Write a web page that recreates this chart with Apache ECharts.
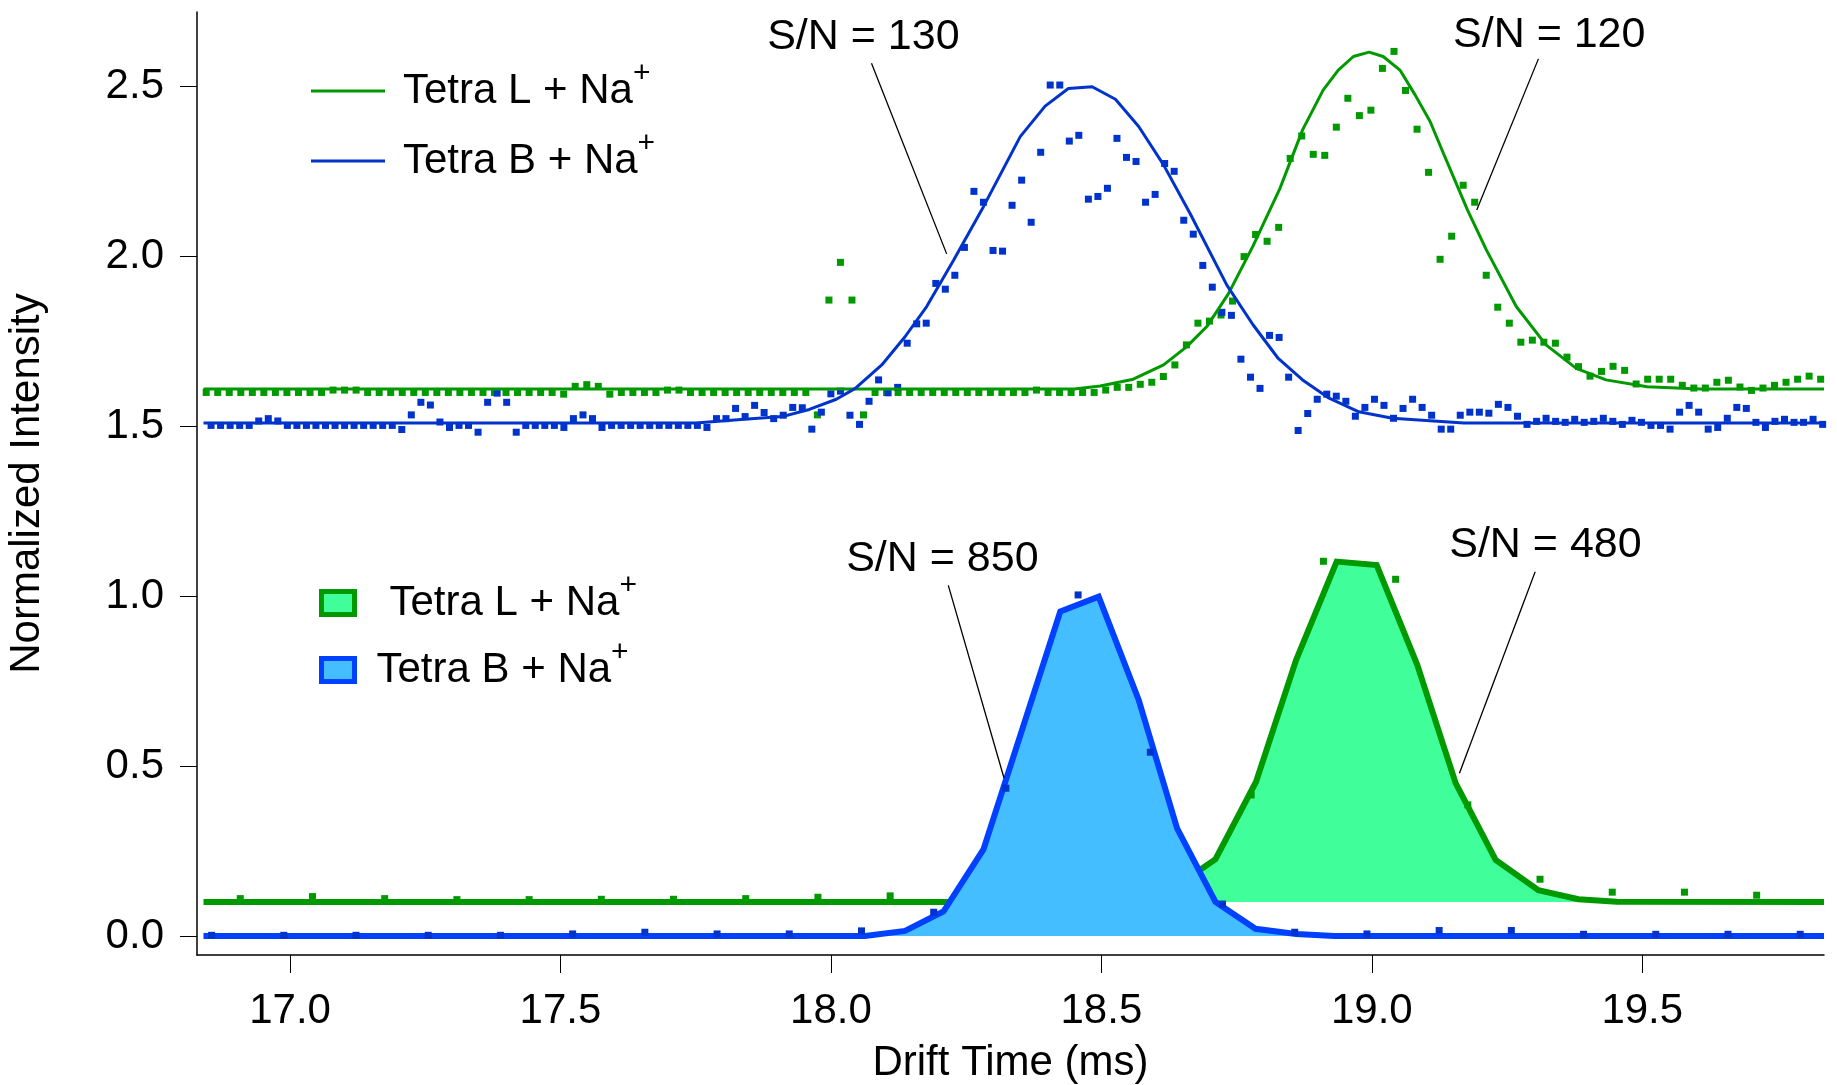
<!DOCTYPE html>
<html lang="en">
<head>
  <meta charset="UTF-8">
  <title>Drift Time</title>
  <script src="https://cdn.jsdelivr.net/npm/echarts@6.0.0/dist/echarts.min.js"></script>
  <style>
    * {
      margin: 0;
      padding: 0
    }

    html, body {
      width: 100%;
      height: 100%;
      background: #fff;
    }

    #main {
      width: 1837px;
      height: 1085px;
    }
  </style>
</head>
<body>
  <div id="main"></div>
</body>
<script type="text/javascript">
  /*-------------------- data --------------------*/
  // top traces: raw points sit on a fixed drift-time grid (start, step)
  var greenTopT0 = 16.845, greenTopDt = 0.02132;
  var greenTopPts = [
    1.600, 1.600, 1.600, 1.600, 1.600, 1.600, 1.600, 1.600, 1.600, 1.600,
    1.600, 1.607, 1.607, 1.607, 1.600, 1.600, 1.600, 1.600, 1.600, 1.600,
    1.600, 1.600, 1.600, 1.600, 1.600, 1.600, 1.600, 1.600, 1.600, 1.600,
    1.600, 1.595, 1.618, 1.623, 1.618, 1.595, 1.600, 1.600, 1.600, 1.600,
    1.607, 1.607, 1.600, 1.600, 1.600, 1.600, 1.600, 1.600, 1.600, 1.600,
    1.600, 1.600, 1.600, 1.534, 1.872, 1.983, 1.872, 1.534, 1.600, 1.600,
    1.600, 1.600, 1.600, 1.600, 1.600, 1.600, 1.600, 1.600, 1.600, 1.600,
    1.600, 1.600, 1.607, 1.600, 1.600, 1.600, 1.600, 1.600, 1.607, 1.615,
    1.615, 1.624, 1.630, 1.647, 1.681, 1.740, 1.804, 1.810, 1.828, 1.869,
    2.000, 2.065, 2.045, 2.086, 2.289, 2.355, 2.301, 2.298, 2.381, 2.466,
    2.415, 2.431, 2.554, 2.604, 2.489, 2.375, 2.248, 1.992, 2.060, 2.210,
    2.160, 1.945, 1.851, 1.804, 1.748, 1.754, 1.748, 1.745, 1.704, 1.676,
    1.648, 1.662, 1.677, 1.665, 1.625, 1.639, 1.639, 1.639, 1.621, 1.613,
    1.613, 1.630, 1.636, 1.616, 1.606, 1.613, 1.621, 1.630, 1.639, 1.648,
    1.639
  ];
  var blueTopT0 = 16.854, blueTopDt = 0.01763;
  var blueTopPts = [
    1.503, 1.503, 1.503, 1.503, 1.503, 1.516, 1.523, 1.516, 1.503, 1.503,
    1.503, 1.503, 1.503, 1.503, 1.503, 1.503, 1.503, 1.503, 1.503, 1.503,
    1.491, 1.534, 1.571, 1.563, 1.513, 1.497, 1.503, 1.503, 1.483, 1.571,
    1.598, 1.571, 1.483, 1.503, 1.503, 1.503, 1.503, 1.497, 1.523, 1.534,
    1.523, 1.497, 1.503, 1.503, 1.503, 1.503, 1.503, 1.503, 1.503, 1.503,
    1.503, 1.503, 1.497, 1.523, 1.523, 1.553, 1.529, 1.562, 1.541, 1.523,
    1.533, 1.556, 1.555, 1.492, 1.542, 1.596, 1.604, 1.533, 1.506, 1.574,
    1.637, 1.599, 1.615, 1.745, 1.802, 1.804, 1.921, 1.904, 1.945, 2.027,
    2.192, 2.160, 2.018, 2.016, 2.151, 2.225, 2.101, 2.307, 2.505, 2.505,
    2.340, 2.357, 2.169, 2.177, 2.201, 2.348, 2.292, 2.280, 2.160, 2.183,
    2.274, 2.251, 2.107, 2.066, 1.974, 1.910, 1.836, 1.827, 1.698, 1.645,
    1.612, 1.768, 1.762, 1.645, 1.488, 1.538, 1.580, 1.595, 1.589, 1.574,
    1.530, 1.556, 1.580, 1.562, 1.524, 1.553, 1.580, 1.556, 1.533, 1.492,
    1.492, 1.533, 1.542, 1.542, 1.539, 1.565, 1.556, 1.530, 1.506, 1.515,
    1.524, 1.515, 1.512, 1.521, 1.512, 1.515, 1.524, 1.515, 1.506, 1.518,
    1.512, 1.503, 1.503, 1.492, 1.542, 1.562, 1.542, 1.492, 1.497, 1.524,
    1.556, 1.553, 1.512, 1.497, 1.515, 1.521, 1.512, 1.512, 1.521, 1.506
  ];

  // fitted curves (top)
  var greenFitX = [16.84, 18.45, 18.498, 18.559, 18.615, 18.658, 18.695, 18.735, 18.78, 18.83,
    18.872, 18.91, 18.938, 18.966, 18.995, 19.021, 19.052, 19.08, 19.108, 19.135,
    19.177, 19.212, 19.267, 19.322, 19.378, 19.433, 19.509, 19.606, 19.836];
  var greenFitY = [1.61, 1.61, 1.619, 1.639, 1.681, 1.735, 1.794, 1.891, 2.03, 2.20,
    2.373, 2.49, 2.549, 2.589, 2.602, 2.589, 2.549, 2.476, 2.397, 2.294,
    2.137, 2.019, 1.853, 1.74, 1.671, 1.637, 1.617, 1.61, 1.61];
  var blueFitX = [16.84, 17.75, 17.84, 17.91, 17.96, 18.01, 18.045, 18.094, 18.137, 18.177,
    18.227, 18.282, 18.35, 18.396, 18.439, 18.483, 18.526, 18.569, 18.615, 18.664,
    18.732, 18.78, 18.827, 18.872, 18.921, 18.976, 19.038, 19.17, 19.836];
  var blueFitY = [1.51, 1.51, 1.521, 1.529, 1.55, 1.58, 1.612, 1.681, 1.764, 1.853,
    1.99, 2.147, 2.353, 2.443, 2.495, 2.50, 2.463, 2.383, 2.27, 2.127,
    1.916, 1.80, 1.70, 1.637, 1.583, 1.543, 1.524, 1.51, 1.51];

  // bottom traces (filled)
  var greenAreaX = [16.84, 18.49, 18.563, 18.637, 18.711, 18.786, 18.860, 18.935, 19.009, 19.084,
    19.155, 19.229, 19.308, 19.382, 19.453, 19.836];
  var greenAreaY = [0.10, 0.10, 0.11, 0.145, 0.226, 0.454, 0.812, 1.102, 1.092, 0.798,
    0.450, 0.224, 0.135, 0.108, 0.101, 0.10];
  var greenBase = 0.1;
  var blueAreaX = [16.84, 18.063, 18.137, 18.208, 18.282, 18.424, 18.495, 18.569, 18.640, 18.711,
    18.785, 18.860, 18.931, 19.836];
  var blueAreaY = [0, 0, 0.015, 0.072, 0.255, 0.955, 0.999, 0.695, 0.317, 0.10,
    0.021, 0.006, 0, 0];

  // bottom raw points
  var botDt = 0.1335;
  var greenBotT0 = 16.908;
  var greenBotPts = [0.110, 0.116, 0.110, 0.107, 0.107, 0.108, 0.108, 0.110, 0.114, 0.118,
    0.105, 0.100, 0.105, 0.150, 0.415, 1.103, 1.050, 0.386, 0.167, 0.129,
    0.129, 0.120];
  var blueBotT0 = 16.855;
  var blueBotPts = [0.002, 0.002, 0.002, 0.002, 0.002, 0.006, 0.011, 0.006, 0.006, 0.015,
    0.070, 0.435, 1.004, 0.541, 0.094, 0.011, 0.006, 0.016, 0.016, 0.005,
    0.005, 0.005, 0.005];

  var xTicks = [17, 17.5, 18, 18.5, 19, 19.5];
  var yTicks = [0, 0.5, 1, 1.5, 2, 2.5];

  // S/N notes: text anchor + leader line (data coords)
  var notes = [
    {text: 'S/N = 130', tx: 18.06, ty: 2.645, x1: 18.075, y1: 2.569, x2: 18.214, y2: 2.008},
    {text: 'S/N = 120', tx: 19.328, ty: 2.652, x1: 19.308, y1: 2.582, x2: 19.194, y2: 2.137},
    {text: 'S/N = 850', tx: 18.206, ty: 1.108, x1: 18.217, y1: 1.032, x2: 18.320, y2: 0.465},
    {text: 'S/N = 480', tx: 19.321, ty: 1.150, x1: 19.302, y1: 1.072, x2: 19.162, y2: 0.479}
  ];

  var legendText = {
    'L-fit': ['a', 'Tetra L + Na'],
    'B-fit': ['a', 'Tetra B + Na'],
    'L-area': ['b', 'Tetra L + Na'],
    'B-area': ['c', 'Tetra B + Na']
  };

  /*-------------------- helpers --------------------*/
  function pairs(xs, ys) {
    return xs.map(function (x, i) { return [x, ys[i]]; });
  }

  function onGrid(t0, dt, ys) {
    return ys.map(function (y, i) { return [+(t0 + dt * i).toFixed(4), y]; });
  }

  var FONT = 'Liberation Sans, Arial, Helvetica, sans-serif';
  var GREEN = '#009900', BLUE = '#0033cc';

  var richText = {
    a: {fontSize: 42, lineHeight: 64, padding: [0, 0, 0, 13], color: '#000', fontFamily: FONT},
    b: {fontSize: 42, lineHeight: 64, padding: [0, 0, 0, 30], color: '#000', fontFamily: FONT},
    c: {fontSize: 42, lineHeight: 64, padding: [0, 0, 0, 17], color: '#000', fontFamily: FONT},
    s: {fontSize: 30, lineHeight: 24, verticalAlign: 'top', color: '#000', fontFamily: FONT}
  };

  function legendFormatter(name) {
    var l = legendText[name];
    return '{' + l[0] + '|' + l[1] + '}{s|+}';
  }

  var noteLines = notes.map(function (n) {
    return [{coord: [n.x1, n.y1]}, {coord: [n.x2, n.y2]}];
  });
  var noteLabels = notes.map(function (n) {
    return {name: n.text, coord: [n.tx, n.ty]};
  });

  /*-------------------- chart --------------------*/
  var chart = echarts.init(document.getElementById('main'));
  chart.setOption({
    animation: false,
    backgroundColor: '#fff',
    textStyle: {fontFamily: FONT},
    grid: {left: 197, right: 13, top: 12, bottom: 130, containLabel: false, outerBoundsMode: 'none'},
    legend: [
      {
        data: [
          {name: 'L-fit', icon: 'rect', itemStyle: {color: GREEN, borderWidth: 0}},
          {name: 'B-fit', icon: 'rect', itemStyle: {color: BLUE, borderWidth: 0}}
        ],
        orient: 'vertical',
        left: 311,
        top: 59,
        padding: 0,
        itemGap: 17,
        itemWidth: 74,
        itemHeight: 3,
        selectedMode: false,
        formatter: legendFormatter,
        textStyle: {rich: richText}
      },
      {
        data: [
          {name: 'L-area', icon: 'rect', itemStyle: {color: '#40ff9a', borderColor: GREEN, borderWidth: 5}},
          {name: 'B-area', icon: 'rect', itemStyle: {color: '#44beff', borderColor: '#0040ff', borderWidth: 5}}
        ],
        orient: 'vertical',
        left: 319,
        top: 571,
        padding: 0,
        itemGap: 14,
        itemWidth: 33,
        itemHeight: 23,
        selectedMode: false,
        formatter: legendFormatter,
        textStyle: {rich: richText}
      }
    ],
    xAxis: {
      type: 'value',
      min: 16.828,
      max: 19.836,
      name: 'Drift Time (ms)',
      nameLocation: 'middle',
      nameGap: 87,
      nameTextStyle: {fontSize: 42, color: '#000', fontFamily: FONT},
      axisLine: {onZero: false, lineStyle: {color: '#000', width: 1.5}},
      axisTick: {customValues: xTicks, length: 18, lineStyle: {color: '#000', width: 1}},
      axisLabel: {
        customValues: xTicks,
        margin: 35,
        fontSize: 42,
        color: '#000',
        fontFamily: FONT,
        formatter: function (v) { return v.toFixed(1); }
      },
      splitLine: {show: false}
    },
    yAxis: {
      type: 'value',
      min: -0.056,
      max: 2.72,
      name: 'Normalized Intensity',
      nameLocation: 'middle',
      nameGap: 149,
      nameTextStyle: {fontSize: 42, color: '#000', fontFamily: FONT},
      axisLine: {show: true, onZero: false, lineStyle: {color: '#000', width: 1.5}},
      axisTick: {show: true, customValues: yTicks, length: 17, lineStyle: {color: '#000', width: 1}},
      axisLabel: {
        customValues: yTicks,
        margin: 33,
        fontSize: 42,
        color: '#000',
        fontFamily: FONT,
        formatter: function (v) { return v.toFixed(1); }
      },
      splitLine: {show: false}
    },
    series: [
      {
        name: 'green-top-pts',
        type: 'scatter',
        symbol: 'rect',
        symbolSize: 7,
        itemStyle: {color: GREEN, opacity: 1},
        data: onGrid(greenTopT0, greenTopDt, greenTopPts),
        z: 2
      },
      {
        name: 'blue-top-pts',
        type: 'scatter',
        symbol: 'rect',
        symbolSize: 7,
        itemStyle: {color: BLUE, opacity: 1},
        data: onGrid(blueTopT0, blueTopDt, blueTopPts),
        z: 2
      },
      {
        name: 'L-fit',
        type: 'line',
        symbol: 'none',
        color: GREEN,
        lineStyle: {color: GREEN, width: 3},
        data: pairs(greenFitX, greenFitY),
        z: 3,
        markLine: {
          silent: true,
          symbol: ['none', 'none'],
          label: {show: false},
          lineStyle: {color: '#000', width: 1.3, type: 'solid'},
          data: noteLines
        },
        markPoint: {
          silent: true,
          symbol: 'rect',
          symbolSize: 1,
          itemStyle: {color: 'rgba(0,0,0,0)'},
          label: {
            show: true,
            position: 'inside',
            formatter: '{b}',
            fontSize: 43,
            color: '#000',
            fontFamily: FONT
          },
          data: noteLabels
        }
      },
      {
        name: 'B-fit',
        type: 'line',
        symbol: 'none',
        color: BLUE,
        lineStyle: {color: BLUE, width: 3},
        data: pairs(blueFitX, blueFitY),
        z: 3
      },
      {
        name: 'L-area',
        type: 'line',
        symbol: 'none',
        color: GREEN,
        lineStyle: {color: GREEN, width: 6, join: 'miter'},
        areaStyle: {color: '#40ff9a', opacity: 1, origin: greenBase},
        data: pairs(greenAreaX, greenAreaY),
        z: 2
      },
      {
        name: 'green-bot-pts',
        type: 'scatter',
        symbol: 'rect',
        symbolSize: 7,
        itemStyle: {color: GREEN, opacity: 1},
        data: onGrid(greenBotT0, botDt, greenBotPts),
        z: 2
      },
      {
        name: 'B-area',
        type: 'line',
        symbol: 'none',
        color: '#0040ff',
        lineStyle: {color: '#0040ff', width: 6, join: 'miter'},
        areaStyle: {color: '#44beff', opacity: 1, origin: 0},
        data: pairs(blueAreaX, blueAreaY),
        z: 3
      },
      {
        name: 'blue-bot-pts',
        type: 'scatter',
        symbol: 'rect',
        symbolSize: 7,
        itemStyle: {color: BLUE, opacity: 1},
        data: onGrid(blueBotT0, botDt, blueBotPts),
        z: 4
      }
    ]
  });
</script>
</html>
